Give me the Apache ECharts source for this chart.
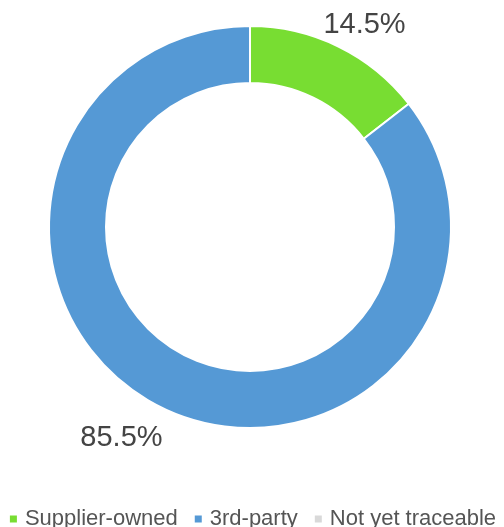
<!DOCTYPE html>
<html>
<head>
<meta charset="utf-8">
<script src="https://cdn.jsdelivr.net/npm/echarts@6/dist/echarts.min.js"></script>
<style>
html,body{margin:0;padding:0;background:#fff;}
#chart{width:504px;height:527px;}
</style>
</head>
<body>
<div id="chart"></div>
<script>
const categories = ['Supplier-owned', '3rd-party', 'Not yet traceable'];
const values = [14.5, 85.5, 0];
const colors = ['#78DD32', '#5599D5', '#D9D9D9'];

const FONT = '"Liberation Sans", Arial, Helvetica, sans-serif';
const chart = echarts.init(document.getElementById('chart'), null, {renderer: 'canvas'});

const labelShift = [[-31, 1], [17, 8], [0, 0]];

chart.setOption({
  animation: false,
  color: colors,
  legend: {
    data: categories,
    left: 'center',
    top: 503,
    icon: 'rect',
    itemWidth: 9,
    itemHeight: 9,
    itemGap: 15,
    selectedMode: false,
    textStyle: {fontFamily: FONT, fontSize: 22, color: '#555', padding: [0, 0, 0, 2]}
  },
  series: [{
    type: 'pie',
    center: [250, 227],
    radius: [144, 201],
    startAngle: 90,
    clockwise: true,
    percentPrecision: 1,
    silent: true,
    itemStyle: {borderColor: '#fff', borderWidth: 2},
    label: {
      show: true,
      position: 'outside',
      fontFamily: FONT,
      fontSize: 29,
      color: '#444',
      formatter: p => p.value > 0 ? p.percent.toFixed(1) + '%' : ''
    },
    labelLine: {show: false, length: 25, length2: 0},
    labelLayout: p => ({dx: labelShift[p.dataIndex][0], dy: labelShift[p.dataIndex][1]}),
    data: categories.map((c, i) => ({name: c, value: values[i]}))
  }]
});
</script>
</body>
</html>
